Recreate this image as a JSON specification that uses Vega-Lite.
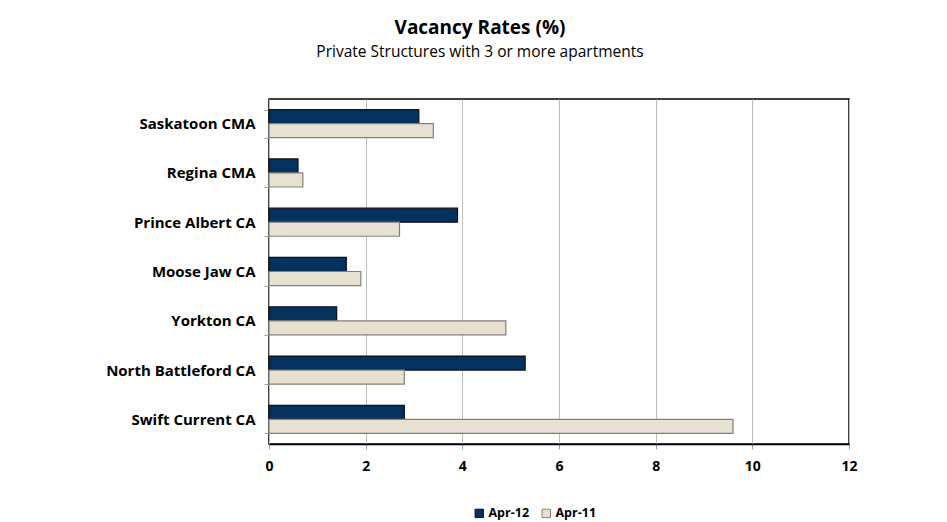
{
  "$schema": "https://vega.github.io/schema/vega-lite/v6.json",
  "autosize": "none",
  "width": 580,
  "height": 345,
  "padding": {"left": 269, "top": 99, "right": 98, "bottom": 78},
  "background": "white",
  "title": {
    "text": "Vacancy Rates (%)",
    "subtitle": "Private Structures with 3 or more apartments",
    "font": "Open Sans",
    "fontSize": 19,
    "fontWeight": "bold",
    "color": "#000000",
    "subtitleFont": "Open Sans",
    "subtitleFontSize": 15.5,
    "subtitleColor": "#000000",
    "subtitlePadding": 7,
    "anchor": "middle",
    "dx": -79,
    "offset": 32
  },
  "data": {
    "values": [
      {"region": "Saskatoon CMA", "period": "Apr-12", "rate": 3.1},
      {"region": "Saskatoon CMA", "period": "Apr-11", "rate": 3.4},
      {"region": "Regina CMA", "period": "Apr-12", "rate": 0.6},
      {"region": "Regina CMA", "period": "Apr-11", "rate": 0.7},
      {"region": "Prince Albert CA", "period": "Apr-12", "rate": 3.9},
      {"region": "Prince Albert CA", "period": "Apr-11", "rate": 2.7},
      {"region": "Moose Jaw CA", "period": "Apr-12", "rate": 1.6},
      {"region": "Moose Jaw CA", "period": "Apr-11", "rate": 1.9},
      {"region": "Yorkton CA", "period": "Apr-12", "rate": 1.4},
      {"region": "Yorkton CA", "period": "Apr-11", "rate": 4.9},
      {"region": "North Battleford CA", "period": "Apr-12", "rate": 5.3},
      {"region": "North Battleford CA", "period": "Apr-11", "rate": 2.8},
      {"region": "Swift Current CA", "period": "Apr-12", "rate": 2.8},
      {"region": "Swift Current CA", "period": "Apr-11", "rate": 9.6}
    ]
  },
  "mark": {"type": "bar", "strokeWidth": 1.2},
  "encoding": {
    "y": {
      "field": "region",
      "type": "nominal",
      "sort": ["Saskatoon CMA", "Regina CMA", "Prince Albert CA", "Moose Jaw CA", "Yorkton CA", "North Battleford CA", "Swift Current CA"],
      "scale": {"paddingInner": 0.43, "paddingOuter": 0.215},
      "axis": {
        "title": null,
        "domain": false,
        "grid": false,
        "tickBand": "extent",
        "tickSize": 5,
        "tickColor": "#a0a0a0",
        "labelFont": "Open Sans",
        "labelFontSize": 15,
        "labelFontWeight": "bold",
        "labelColor": "#000000",
        "labelPadding": 9
      }
    },
    "yOffset": {"field": "period", "sort": ["Apr-12", "Apr-11"]},
    "x": {
      "field": "rate",
      "type": "quantitative",
      "scale": {"domain": [0, 12], "nice": false},
      "axis": {
        "title": null,
        "values": [0, 2, 4, 6, 8, 10, 12],
        "grid": true,
        "gridColor": "#bdbdbd",
        "gridWidth": 1,
        "domainColor": "#000000",
        "domainWidth": 1.5,
        "tickSize": 5,
        "tickColor": "#a0a0a0",
        "labelFont": "Open Sans",
        "labelFontSize": 14,
        "labelFontWeight": "bold",
        "labelColor": "#000000",
        "labelPadding": 10,
        "labelFlush": false
      }
    },
    "color": {
      "field": "period",
      "type": "nominal",
      "scale": {"domain": ["Apr-12", "Apr-11"], "range": ["#04325f", "#e6e1d1"]},
      "legend": {"title": null}
    },
    "stroke": {
      "field": "period",
      "type": "nominal",
      "scale": {"domain": ["Apr-12", "Apr-11"], "range": ["#111111", "#808080"]},
      "legend": {"title": null}
    }
  },
  "config": {
    "view": {"stroke": "#000000", "strokeWidth": 1.5},
    "legend": {
      "orient": "none",
      "legendX": 204,
      "legendY": 408,
      "direction": "horizontal",
      "symbolType": "square",
      "symbolSize": 70,
      "symbolStrokeWidth": 1,
      "labelFont": "Open Sans",
      "labelFontSize": 12.5,
      "labelFontWeight": "bold",
      "labelColor": "#000000",
      "labelOffset": 3,
      "columnPadding": 10
    }
  }
}
